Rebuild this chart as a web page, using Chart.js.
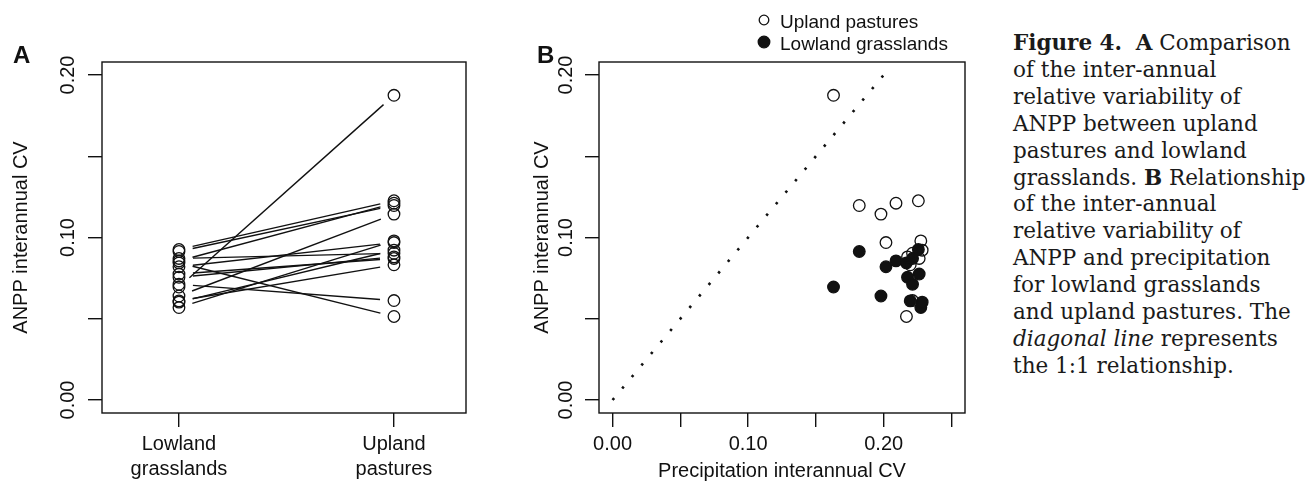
<!DOCTYPE html>
<html>
<head>
<meta charset="utf-8">
<script src="https://cdn.jsdelivr.net/npm/chart.js@4"></script>
<style>
  html, body { margin: 0; padding: 0; background: #fff; }
  body { width: 1312px; height: 482px; position: relative; overflow: hidden; }
  .panel { position: absolute; top: 0; }
  #caption {
    position: absolute; left: 1013px; top: 30px;
    font-family: "DejaVu Serif", serif; font-size: 21.5px; line-height: 26.9px;
    color: #1a1a1a; white-space: nowrap;
  }
</style>
</head>
<body>
<div class="panel" style="left:0"><canvas id="chartA" width="520" height="482"></canvas></div>
<div class="panel" style="left:500px"><canvas id="chartB" width="500" height="482"></canvas></div>
<div id="caption">
<b>Figure 4.</b>&nbsp; <b>A</b> Comparison<br>
of the inter-annual<br>
relative variability of<br>
ANPP between upland<br>
pastures and lowland<br>
grasslands. <b>B</b> Relationship<br>
of the inter-annual<br>
relative variability of<br>
ANPP and precipitation<br>
for lowland grasslands<br>
and upland pastures. The<br>
<i>diagonal line</i> represents<br>
the 1:1 relationship.
</div>
<script>
// one entry per site
const groups = ['Lowland grasslands', 'Upland pastures'];
const precipCV  = [0.163, 0.182, 0.198, 0.2017, 0.2091, 0.2168, 0.2256, 0.2274, 0.2284, 0.2262, 0.2176, 0.2213, 0.2213, 0.2196];
const lowlandCV = [0.0695, 0.0914, 0.0640, 0.0820, 0.0856, 0.0844, 0.0926, 0.0569, 0.0602, 0.0775, 0.0755, 0.0871, 0.0712, 0.0610];
const uplandCV  = [0.1875, 0.1197, 0.1144, 0.0969, 0.1211, 0.0514, 0.1226, 0.0979, 0.0922, 0.0871, 0.0881, 0.0903, 0.0612, 0.0832];

const yTickVals = [0, 0.05, 0.10, 0.15, 0.20];
const yTickLabels = ['0.00', '', '0.10', '', '0.20'];
const groupTickVals = [1, 2];
const precipTickVals = [0, 0.05, 0.10, 0.15, 0.20, 0.25];
const precipTickLabels = ['0.00', '', '0.10', '', '0.20', ''];
const diagonal = [0, 0.2];

Chart.defaults.font.family = '"Liberation Sans", Arial, sans-serif';
Chart.defaults.color = '#000';

const INK = '#111';
const SANS = '"Liberation Sans", Arial, sans-serif';

// R-style box, rotated y labels, titles, gapped lines (type = "b"), legend
const rFrame = {
  id: 'rFrame',
  beforeDatasetsDraw(chart, args, o) {
    const ctx = chart.ctx;
    ctx.save();
    chart.data.datasets.forEach((ds, i) => {
      if (!ds.gapLine) return;
      const pts = chart.getDatasetMeta(i).data;
      const p0 = pts[0], p1 = pts[1];
      const dx = p1.x - p0.x, dy = p1.y - p0.y, len = Math.hypot(dx, dy);
      const ux = dx / len, uy = dy / len;
      ctx.beginPath();
      ctx.moveTo(p0.x + ux * o.gap, p0.y + uy * o.gap);
      ctx.lineTo(p1.x - ux * o.gap, p1.y - uy * o.gap);
      ctx.lineWidth = 1.4;
      ctx.strokeStyle = INK;
      ctx.stroke();
    });
    ctx.restore();
  },
  afterDraw(chart, args, o) {
    const ctx = chart.ctx, a = chart.chartArea, ys = chart.scales.y;
    ctx.save();
    ctx.strokeStyle = INK;
    ctx.lineWidth = 1.4;
    ctx.strokeRect(a.left, a.top, a.right - a.left, a.bottom - a.top);

    ctx.fillStyle = INK;
    ctx.font = '20px ' + SANS;
    ctx.textAlign = 'center';
    ctx.textBaseline = 'alphabetic';
    yTickVals.forEach((v, i) => {
      if (!yTickLabels[i]) return;
      ctx.save();
      ctx.translate(o.yLabelX, ys.getPixelForValue(v));
      ctx.rotate(-Math.PI / 2);
      ctx.fillText(yTickLabels[i], 0, 0);
      ctx.restore();
    });

    ctx.save();
    ctx.translate(o.yTitleX, (a.top + a.bottom) / 2);
    ctx.rotate(-Math.PI / 2);
    ctx.fillText('ANPP interannual CV', 0, 0);
    ctx.restore();

    if (o.xTitle) ctx.fillText(o.xTitle, (a.left + a.right) / 2, o.xTitleY);

    ctx.font = 'bold 24px ' + SANS;
    ctx.textAlign = 'left';
    ctx.fillText(o.letter, o.letterX, o.letterY);

    if (o.legend) {
      ctx.font = '19px ' + SANS;
      chart.data.datasets.forEach(ds => {
        if (ds.legendY == null) return;
        ctx.beginPath();
        ctx.arc(o.legendX, ds.legendY, ds.legendR, 0, Math.PI * 2);
        ctx.lineWidth = 1.3;
        ctx.strokeStyle = INK;
        ctx.stroke();
        if (ds.pointBackgroundColor !== 'rgba(0,0,0,0)') { ctx.fillStyle = INK; ctx.fill(); }
        ctx.fillStyle = INK;
        ctx.fillText(ds.label, o.legendX + 16, ds.legendY + 8);
      });
    }
    ctx.restore();
  }
};

function yAxis(width) {
  return {
    type: 'linear', min: -0.008, max: 0.208,
    afterBuildTicks: s => { s.ticks = yTickVals.map(v => ({ value: v })); },
    ticks: { display: false },
    grid: { drawOnChartArea: false, tickLength: 14, color: INK, lineWidth: 1.4 },
    border: { display: false },
    afterFit: s => { s.width = width; }
  };
}

// ---- panel A ----
const pairSets = lowlandCV.map((v, i) => ({
  data: [{ x: 1, y: v }, { x: 2, y: uplandCV[i] }],
  gapLine: true, showLine: false, pointRadius: 0
}));

new Chart(document.getElementById('chartA'), {
  type: 'scatter',
  data: {
    datasets: pairSets.concat([
      {
        label: groups[0],
        data: lowlandCV.map(v => ({ x: 1, y: v })),
        pointRadius: 5.8, pointBorderWidth: 1.3,
        pointBorderColor: INK, pointBackgroundColor: 'rgba(0,0,0,0)'
      },
      {
        label: groups[1],
        data: uplandCV.map(v => ({ x: 2, y: v })),
        pointRadius: 5.8, pointBorderWidth: 1.3,
        pointBorderColor: INK, pointBackgroundColor: 'rgba(0,0,0,0)'
      }
    ])
  },
  options: {
    responsive: false, animation: false, devicePixelRatio: 1,
    layout: { padding: { top: 62, right: 54, left: 0, bottom: 0 } },
    plugins: {
      legend: { display: false }, tooltip: { enabled: false },
      rFrame: { gap: 14, yLabelX: 74, yTitleX: 27, letter: 'A', letterX: 13, letterY: 63 }
    },
    scales: {
      x: {
        type: 'linear', min: 0.642, max: 2.335,
        afterBuildTicks: s => { s.ticks = groupTickVals.map(v => ({ value: v })); },
        ticks: {
          callback: (v, i) => groups[i].split(' '),
          font: { size: 20, lineHeight: 1.25 }, color: INK, padding: 5,
          maxRotation: 0, autoSkip: false
        },
        grid: { drawOnChartArea: false, tickLength: 14, color: INK, lineWidth: 1.4 },
        border: { display: false },
        afterFit: s => { s.height = 69; }
      },
      y: yAxis(102)
    }
  },
  plugins: [rFrame]
});

// ---- panel B ----
new Chart(document.getElementById('chartB'), {
  type: 'scatter',
  data: {
    datasets: [
      {
        label: 'diagonal',
        data: diagonal.map(v => ({ x: v, y: v })),
        showLine: true, borderColor: INK, borderWidth: 2.6,
        borderDash: [2.5, 12.5], pointRadius: 0
      },
      {
        label: 'Upland pastures',
        data: uplandCV.map((v, i) => ({ x: precipCV[i], y: v })),
        pointRadius: 5.8, pointBorderWidth: 1.3,
        pointBorderColor: INK, pointBackgroundColor: 'rgba(0,0,0,0)',
        legendY: 20, legendR: 4.8
      },
      {
        label: 'Lowland grasslands',
        data: lowlandCV.map((v, i) => ({ x: precipCV[i], y: v })),
        pointRadius: 5.8, pointBorderWidth: 1.3,
        pointBorderColor: INK, pointBackgroundColor: INK,
        legendY: 42, legendR: 5.8
      }
    ]
  },
  options: {
    responsive: false, animation: false, devicePixelRatio: 1,
    layout: { padding: { top: 62, right: 35, left: 0, bottom: 0 } },
    plugins: {
      legend: { display: false }, tooltip: { enabled: false },
      rFrame: {
        gap: 0, yLabelX: 72, yTitleX: 48, letter: 'B', letterX: 37, letterY: 63,
        xTitle: 'Precipitation interannual CV', xTitleY: 477,
        legend: true, legendX: 264
      }
    },
    scales: {
      x: {
        type: 'linear', min: -0.01, max: 0.26,
        afterBuildTicks: s => { s.ticks = precipTickVals.map(v => ({ value: v })); },
        ticks: {
          callback: (v, i) => precipTickLabels[i],
          font: { size: 20 }, color: INK, padding: 5,
          maxRotation: 0, autoSkip: false
        },
        grid: { drawOnChartArea: false, tickLength: 14, color: INK, lineWidth: 1.4 },
        border: { display: false },
        afterFit: s => { s.height = 69; }
      },
      y: yAxis(99)
    }
  },
  plugins: [rFrame]
});
</script>
</body>
</html>
